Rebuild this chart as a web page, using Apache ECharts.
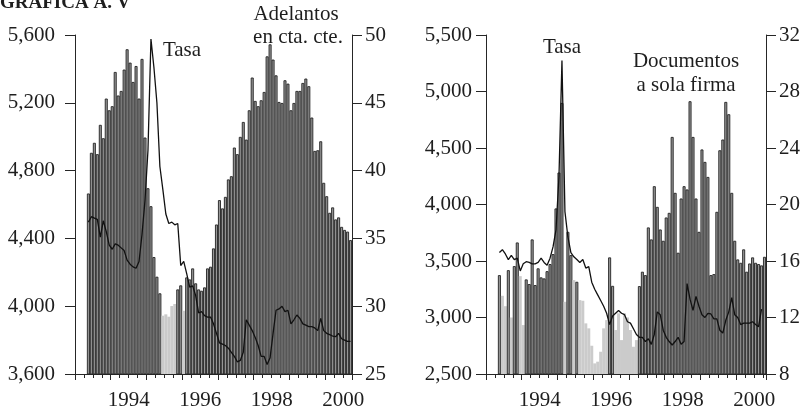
<!DOCTYPE html>
<html>
<head>
<meta charset="utf-8">
<script src="https://cdn.jsdelivr.net/npm/echarts@6/dist/echarts.min.js"></script>
<style>
html, body { margin: 0; padding: 0; background: #ffffff; }
#chart { width: 807px; height: 413px; }
</style>
</head>
<body>
<div id="chart"></div>
<script>
// Monthly series, both panels start in May 1993
const firstYear = 1993;
const firstMonth = 5;

// Left panel: advances on current account (left axis) and their rate (right axis)
const adelantos = [
  4665, 4905, 4964, 4897, 5070, 4991, 5225, 5156, 5180, 5382,
  5243, 5270, 5396, 5516, 5437, 5323, 5417, 5225, 5459, 4995,
  4696, 4590, 4290, 4174, 4076, 3944, 3952, 3938, 4001, 4013,
  4099, 4123, 3973, 4170, 4158, 4223, 4135, 4099, 4091, 4111,
  4223, 4233, 4341, 4482, 4626, 4577, 4645, 4748, 4767, 4936,
  4897, 4999, 5087, 4983, 5156, 5349, 5211, 5180, 5215, 5264,
  5474, 5545, 5455, 5362, 5205, 5199, 5333, 5313, 5156, 5199,
  5270, 5270, 5317, 5343, 5298, 5113, 4916, 4920, 4973, 4728,
  4649, 4551, 4583, 4512, 4524, 4468, 4450, 4440, 4390
];
// D = outlined dark bar, L = plain light bar
const adelantosShade =
  'DDDDDDDDDD' + 'DDDDDDDDDD' + 'DDDDDLLLLL' + 'DDLDDDDDDD' + 'DDDDDDDDDD' +
  'DDDDDDDDDD' + 'DDDDDDDDDD' + 'DDDDDDDDDD' + 'DDDDDDDDD';
const tasaAdelantos = [
  36.2, 36.6, 36.5, 36.4, 35.1, 36.3, 35.5, 34.5, 34.2, 34.6,
  34.5, 34.3, 34.1, 33.4, 33.1, 32.9, 32.8, 33.3, 35.3, 37.8,
  41.5, 49.7, 47.6, 45.0, 40.3, 38.6, 36.8, 36.1, 36.2, 36.0,
  36.1, 33.0, 33.3, 32.4, 31.4, 31.5, 30.8, 29.5, 29.6, 29.3,
  29.2, 29.2, 28.7, 28.0, 27.3, 27.2, 27.1, 26.9, 26.6, 26.3,
  25.9, 26.0, 26.6, 29.0, 28.6, 28.2, 27.7, 27.1, 26.3, 26.3,
  25.7, 26.2, 28.0, 29.7, 29.8, 30.0, 29.6, 29.7, 28.7, 29.0,
  29.35, 29.1, 28.7, 28.6, 28.5, 28.5, 28.4, 28.2, 29.1, 28.2,
  28.0, 27.9, 27.8, 27.75, 28.0, 27.6, 27.5, 27.4, 27.4
];

// Right panel: single-signature notes (left axis) and their rate (right axis)
const documentos = [
  3375, 3192, 3100, 3419, 3000, 3455, 3664, 3366, 2933, 3337,
  3296, 3691, 3287, 3435, 3355, 3346, 3410, 3473, 3561, 3965,
  4283, 4899, 3139, 3758, 3552, 3331, 3316, 3154, 3148, 2948,
  2904, 2750, 2594, 2609, 2697, 2904, 2977, 3532, 3280, 2889,
  3037, 2800, 3037, 3000, 2889, 2741, 2800, 3278, 3405, 3375,
  3797, 3691, 4162, 3979, 3779, 3679, 3885, 3926, 4598, 4103,
  3573, 4053, 4162, 4133, 4914, 4598, 4053, 3758, 4487, 4377,
  4244, 3375, 3384, 3935, 4480, 4575, 4908, 4799, 4103, 3679,
  3514, 3484, 3603, 3405, 3478, 3532, 3484, 3473, 3461, 3537
];
const documentosShade =
  'DLLDLDDLLD' + 'DDDDDDDDDD' + 'DDLDDLDLLL' + 'LLLLLLLDDL' + 'LLLLLLLDDD' +
  'DDDDDDDDDD' + 'DDDDDDDDDD' + 'DDDDDDDDDD' + 'DDDDDDDDDD';
const tasaDocumentos = [
  16.6, 16.8, 16.5, 16.1, 16.4, 16.1, 16.2, 15.3, 15.8, 15.95,
  15.9, 15.8, 15.8, 15.9, 16.2, 15.9, 15.7, 16.2, 17.0, 18.2,
  22.0, 30.2, 19.5, 17.7, 16.6, 16.3, 16.1, 15.9, 16.1, 15.5,
  15.6, 14.5, 14.0, 13.6, 13.2, 12.8, 12.3, 11.5, 12.1, 12.3,
  12.5, 12.3, 12.2, 11.7, 11.6, 11.2, 10.8, 10.6, 10.6, 10.3,
  10.5, 10.1, 10.8, 12.4, 12.2, 11.1, 10.6, 10.3, 10.05, 10.3,
  10.6, 10.1, 10.3, 14.4, 13.3, 12.5, 13.5, 12.8, 12.2, 12.0,
  12.3, 12.25, 11.9, 11.9, 11.1, 10.9, 11.8, 12.4, 13.4, 12.2,
  12.0, 11.5, 11.6, 11.6, 11.6, 11.7, 11.5, 11.35, 12.6
];

const yearLabels = [1994, 1996, 1998, 2000];

// ---------------------------------------------------------------------------
const FONT = '"Liberation Serif", "Times New Roman", serif';
const INK = '#262626';
const TEXT = '#1e1e1e';

const monthX = i => firstYear + (firstMonth - 1 + i + 0.5) / 12;

const darkBar = { color: '#979797', borderColor: '#222222', borderWidth: 0.9 };
const lightBar = { color: '#cbcbcb', borderWidth: 0 };

function barData(values, shade) {
  return values.map((v, i) => ({
    value: [monthX(i), v],
    itemStyle: shade[i] === 'L' ? lightBar : darkBar
  }));
}
function lineData(values) {
  return values.map((v, i) => [monthX(i), v]);
}
const thousands = v => v.toLocaleString('en-US');

function xAxis(gridIndex, max) {
  return {
    type: 'value', gridIndex, min: 1993, max, interval: 1,
    axisLine: { show: true, onZero: false, lineStyle: { color: INK, width: 1 } },
    axisTick: { show: true, length: 6, lineStyle: { color: INK, width: 1 } },
    minorTick: { show: true, splitNumber: 4, length: 4, lineStyle: { color: INK, width: 1 } },
    splitLine: { show: false }, minorSplitLine: { show: false },
    axisLabel: {
      formatter: v => (yearLabels.indexOf(v) >= 0 ? String(v) : ''),
      padding: [0, 0, 0, 36], margin: 16,
      fontFamily: FONT, fontSize: 21, color: TEXT,
      showMinLabel: true, showMaxLabel: true
    }
  };
}
function yAxis(gridIndex, position, min, max, interval, margin, fmt) {
  return {
    type: 'value', gridIndex, position, min, max, interval,
    axisLine: { show: true, onZero: false, lineStyle: { color: INK, width: 1 } },
    axisTick: { show: true, length: 10, lineStyle: { color: INK, width: 1 } },
    splitLine: { show: false },
    axisLabel: {
      formatter: fmt || (v => String(v)), margin,
      fontFamily: FONT, fontSize: 21, color: TEXT,
      showMinLabel: true, showMaxLabel: true
    }
  };
}
function note(text, x, y) {
  return {
    type: 'text', x, y, silent: true,
    style: { text, fill: TEXT, font: '21px ' + FONT, align: 'center', verticalAlign: 'bottom' }
  };
}

const chart = echarts.init(document.getElementById('chart'), null, { renderer: 'canvas' });
chart.setOption({
  animation: false,
  backgroundColor: '#ffffff',
  grid: [
    { left: 75, right: 455, top: 35, bottom: 39, containLabel: false },
    { left: 486, right: 41, top: 35, bottom: 39, containLabel: false }
  ],
  xAxis: [xAxis(0, 2000.75), xAxis(1, 2000 + 10 / 12)],
  yAxis: [
    yAxis(0, 'left', 3600, 5600, 400, 20, thousands),
    yAxis(0, 'right', 25, 50, 5, 13),
    yAxis(1, 'left', 2500, 5500, 500, 14, thousands),
    yAxis(1, 'right', 8, 32, 4, 13)
  ],
  series: [
    { type: 'bar', xAxisIndex: 0, yAxisIndex: 0, barWidth: 3, data: barData(adelantos, adelantosShade), z: 2 },
    { type: 'line', xAxisIndex: 0, yAxisIndex: 1, data: lineData(tasaAdelantos), showSymbol: false,
      lineStyle: { color: '#111111', width: 1.3 }, z: 3 },
    { type: 'bar', xAxisIndex: 1, yAxisIndex: 2, barWidth: 3, data: barData(documentos, documentosShade), z: 2 },
    { type: 'line', xAxisIndex: 1, yAxisIndex: 3, data: lineData(tasaDocumentos), showSymbol: false,
      lineStyle: { color: '#111111', width: 1.3 }, z: 3 }
  ],
  graphic: [
    { type: 'text', x: 0, y: 13, silent: true,
      style: { text: 'GRÁFICA A. V', fill: TEXT, font: 'bold 19px ' + FONT, align: 'left', verticalAlign: 'bottom' } },
    note('Tasa', 182, 61),
    note('Adelantos', 296, 25),
    note('en cta. cte.', 298, 48),
    note('Tasa', 562, 58),
    note('Documentos', 686, 72),
    note('a sola firma', 686, 96)
  ]
});
</script>
</body>
</html>
